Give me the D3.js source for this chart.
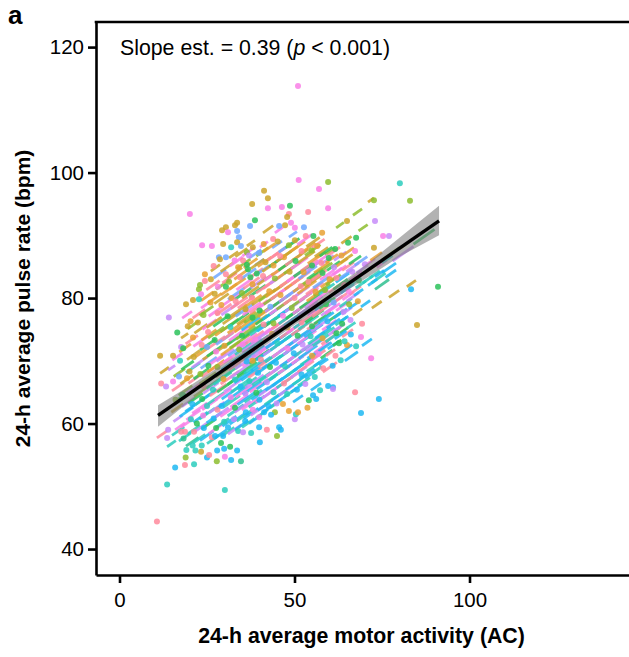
<!DOCTYPE html>
<html><head><meta charset="utf-8">
<script src="https://cdn.jsdelivr.net/npm/d3@7/dist/d3.min.js"></script>
<style>html,body{margin:0;padding:0;background:#fff}svg{display:block}text{font-family:"Liberation Sans",Arial,sans-serif;fill:#000}</style>
</head><body><div id="c"></div>
<script>
const groupColors=["#CBA52B","#F97FE6","#6EA8FF","#2BCDBD","#2CC25A","#C78CF9","#E8A133","#FF8A9C","#1FB8F2","#8DBD2F","#2FC08F"];
const xTicks=[0,50,100], yTicks=[40,60,80,100,120];
const slopeEst=0.39;
const fitX=[11,91.3], fitY=[61.3,92.3];
const ciX=[11,20,30,40,50,60,70,80,91.3];
const ciLow=[59.5,63.5,67.8,71.8,75.7,79.4,83,86.6,90];
const ciHigh=[62.9,66,69.6,73.3,77.1,81.1,85.1,89.6,94.7];
// [x, y, group]
const dots=[[51,113.8,1],[51.2,98.8,1],[41.3,97.1,0],[42.4,95.9,0],[37.9,95,0],[20.1,93.4,1],[59.6,98.5,9],[57,97.4,1],[80.1,98.3,3],[72.7,95.6,9],[83,95.5,9],[59.6,94.3,1],[53.9,93.7,7],[65,92.3,0],[73,92.3,5],[75.3,89.9,1],[77,89.9,5],[65.3,88.8,4],[67.6,89.6,4],[67.3,87.5,1],[72.7,88,0],[61.6,87.8,4],
[91,81.8,4],[85,75.7,0],[83.3,81.4,8],[68.1,79.5,6],[65.6,79,9],[69.3,75.9,7],[63.6,75.9,4],[69,73.8,1],[67.6,72.3,3],[65,72.5,6],[62.7,72.8,4],[71.9,70.4,1],[74.1,63.9,8],[67.3,65,7],[69,61.7,8],[61,65.8,8],[59.6,66,8],[61,65.5,5],[57.3,65.3,3],[55.3,64.5,8],[54.1,63.7,4],[50.1,60.7,5],[50.4,61.5,3],[51,61.8,6],[10.7,44.4,7],
[23.6,88.4,1],[26.4,88.3,1],[29.6,88.6,0],[31.9,88.1,3],[29.3,90.8,0],[30.4,91.3,0],[31,90.5,1],[33,91.6,0],[33.6,92,0],[33.6,90.7,2],[34.1,89.7,2],[33.6,88.9,0],[34.7,88.3,2],[28.4,86.5,2],[30.4,86.5,2],[38.7,92.4,4],[37.3,91.5,2],[38.1,88.1,0],[39.9,87.2,2],[36.4,87.3,9],[37,86.8,5],[35.3,86,7],[28.7,86.2,0],[30.4,83.8,7],[36.4,85.3,4],[36.7,84.6,4],[34.4,83.3,7],[23,82.1,9],[22.7,81.4,9],[24.4,82.7,7],[26.1,83,0],[28.1,81.8,1],[30.4,81.8,4],[23.3,80.6,1],[21,79.7,0],[22.7,79.8,3],[46.4,94.5,1],[48.7,94.7,4],[48.4,93.4,7],[47.9,92.9,0],[49,92,1],[47.3,91.6,0],[45.6,91.5,2],[50.1,91.2,1],[50.1,89.2,0],[48.4,88.4,9],[42.4,94.3,1],
[14.1,76.9,5],[11.6,70.8,0],[15.3,70.8,0],[17.6,72.2,5],[11.9,66.4,7],[13.3,65.9,5],[15.3,66.7,1],[13.9,59,5],[13.6,57.7,5],[17.6,58.7,7],[15.9,53,8],[18.7,53.4,7],[21.3,53.5,3],[13.6,50.3,3],[30.1,49.4,3],[27.8,54,9],[34.7,54,10],[31.9,54.2,8],[30.1,54.7,1],[25,54.6,8],[18.9,54.6,9],[23.3,55.5,0],[25.6,55,7],[19.1,55.8,3],[21.7,55.7,3],[20.9,56.5,3],[23.5,56.5,3],[27.9,55.7,8],[29.9,56,8],[33.6,55.7,8],[18.3,57.6,10],[40.1,57,8],[21.3,58.7,7],[18.7,58.7,7],[27.6,59.3,4],[31,59.4,8],[22.1,60,4],[24.1,59.3,8],[26.4,57.8,7],[27.3,58,8],[29,56.9,4],[31.6,56.3,4],[29.6,58,8],[33.9,58.8,3],[35.3,58.6,5],[37.6,58.5,3],[39.9,59.4,8],[42.1,59,7],[45,58,9],[45.6,59.4,8],[46.1,59,8],[44.4,61.8,9],[46.7,63.1,6],[48.4,62,6],[36.1,61.8,8],[39.9,61,1],[41.3,61.8,8],[43.3,61.4,8],[38.1,62.2,1],
[16.5,74.5,4],[17.3,70,3],[18.2,72,4],[17,67.5,2],[19.5,75.5,0],[21,73.7,6],[16,63.8,9],[18,64.6,4],[20,68.3,0],[24,77.3,9],[26,79.3,6],[28,77.6,7],[32,80,6],[35,80.8,9],[38,82.2,6],[41,83.5,7],[44,85.2,6],[47,86.5,6],[52,87.5,7],[55,85.2,4],[58,84,4],[60,83,6],[62,83.2,7],[56,81,6],[54,82.6,7],[59,79,4],[64,77.8,5],[62,74.4,4],[66,76.5,5],[58,73.6,6],[55,70.8,6],[52,67.8,8],[47,66.4,7],[44,65,3],[40,63.8,8],[36,64.8,5],[33,62.5,4],[28,62.2,7],[25,62.8,3],[43,69,4],[48,72,1],[38,70,6],[33,67,3],[28,69,9],[24,66,7],[35,74,4],[30,72.4,6],[44,76,9],[40,78,4],[50,80,7],[55,75.5,4],[46,80.5,6],
[22.4,76.1,0],[25.3,74.6,7],[27.2,80.7,0],[29.1,78.9,6],[31.3,82.6,9],[33.2,79.5,7],[33.9,84.9,6],[36,78.2,0],[37.8,80.1,7],[39.2,83.9,4],[41.7,85.7,0],[42.8,81.1,6],[44.4,83.1,9],[45.9,86.7,7],[48.6,84.2,0],[50.3,85.9,4],[52.6,84.1,6],[53.2,89.9,7],[54.9,87.6,9],[56.5,88.3,6],[57.7,85.6,7],[59.8,86.4,4],[61.3,84.9,5],[63.4,86.8,6],[64.2,82.1,7],[66.5,84.2,5],[68.4,82.8,4],[70.1,85.4,5],[51.8,81.9,7],[49.2,78.4,9],[46.7,77.2,1],[43.6,74.3,6],[41.2,75.8,7],[38.7,73.4,1],[36.3,69.9,8],[34.2,71.8,9],[32.1,69.4,5],[29.7,67.1,6],[27.6,71.5,1],[25.4,69.2,4],[23.1,67.9,9],[21.2,70.6,0],[19.3,67.2,6],[20.8,63.1,8],[23.6,63.9,4],[26.7,65.4,3],[29.2,62.8,8],[31.8,64.2,1],[34.6,65.9,8],[37.1,66.8,3],[39.6,68.1,8],[42.1,66.6,5],[44.7,69.7,8],[47.3,69.1,3],[49.8,71.2,8],[52.3,72.6,5],[54.6,73.9,3],[56.9,71.1,1],[59.4,76.3,8],[61.7,70.8,7],[64.3,73.1,3],[66.1,74.2,8],[47.9,64.7,3],[44.9,63.2,5],[42.6,62.8,8],[39.1,64.9,4],[35.9,60.4,8],[32.7,60.7,5],[29.9,60.3,3],[26.9,60.8,8],[23.9,61.3,1],[20.4,60.7,3],[50.7,65.4,8],[53.1,66.3,5],[55.8,67.4,3],[58.2,68.8,7],[60.9,69.2,8],[63.2,70.1,3],[56.2,63.9,8],[53.7,62.5,6],
[31.7,75.4,3],[38,76.9,4],[43.1,78.6,2],[48,75.3,6],[52,76.1,7],[35.2,72.6,1],[27.2,73.3,4],[23.5,72.5,7],[20.3,76.3,6],[19,79,0],[25,72.2,2],[30.9,77.1,4],[40.4,70.2,7],[45.1,72.8,3],[50.9,74,4],[55,78.8,1],[58.7,81.3,9],[61.2,79.3,2],[65.5,81.1,1],[24.4,83.8,6],[26.9,85.1,7],[32.9,86,1],[41.2,88.6,6],[43.9,89.4,7],[45.2,89,0],[37.4,83.3,4],[52.7,91.3,2],[55.4,89.9,4],[57.9,90.4,6]];
// [xStart, xEnd, yStart, group]
const segs=[[26.1,28.7,84.3,0],[41,43.9,90.4,0],[44.4,46.7,90.4,1],[48.4,50.7,89.7,2],[36.4,38.7,88.3,0],[40.1,42.4,88.1,1],[43.6,46.4,88,2],[31.3,33.9,86.4,0],[38.7,41.3,85.2,2],[23.3,25.9,78.4,1],[17.6,19.6,73.6,0],[17.9,20.7,76.8,1],[11.6,14.1,68,0],[13.9,15.9,68.5,5],[10.7,13.6,57.7,7],[13.6,16.1,56.3,3],[15.9,18.7,59,1],
[71,72.7,95.3,0],[66.7,69.3,93.2,9],[61.9,64.1,91.2,9],[68.3,70.9,90.7,9],[63.4,66.3,88.7,0],[58.7,61.6,86.9,9],[56.4,58.9,86.4,6],[53.9,56.7,84.6,9],[80.1,82.7,87.9,0],[82.1,84.7,81.8,0],[77,79.9,80.1,0],[72.1,74.9,78.4,0],[66.7,69.3,77.3,0],[60.7,63,74.4,0],[63,65.3,74.4,4],[63.6,66.7,73.8,7],[69.3,72.1,72.4,8],[64.4,68.1,70,8],[63,66.5,71.2,8],[58.1,62.1,68.2,7],[54.7,57.6,65.3,8],[49.6,52.4,63.4,8],[75,79,84,8],[72,76,82.4,3],[75,80,86.1,9],[84,90,88.6,4],[78,84,85.9,5],[70,75,84,6],[73,77,81.4,10],
[15,18.5,58.1,3],[15.4,18,60.3,5],[14.8,18.2,61.8,0],[15.6,19,63.4,4],[15,18.4,65.2,7],[15.5,18.7,67.5,9],[15.1,18,70.1,1],
[17,20.4,57.2,3],[17.5,21,59.4,1],[17.2,21,61.1,8],[17.8,21.6,62.7,5],[16.9,20.8,64.5,9],[17.4,21,66.3,0],[17.7,21.2,68.6,4],[17.1,20.4,71.4,6],
[19,22.6,56.4,10],[19.4,23,58.3,3],[19.1,23.1,60.6,1],[18.8,22.9,61.9,8],[19.6,23.8,63.2,4],[19.2,23.4,64.9,5],[19.7,23.8,66.4,7],[19,23,68.1,3],[19.3,23,70.2,0],[18.9,22.4,72.7,7],[19.5,22.6,75.1,9],
[21,24.5,56.9,3],[21.5,25.3,58.7,5],[21.1,25.2,60.2,8],[20.8,25.1,61.6,1],[21.7,26,63,3],[21.3,25.7,64.3,9],[21.9,26.2,65.8,7],[21.2,25.5,67.1,4],[20.7,25,68.9,5],[21.6,25.7,70.6,6],[21.1,25.2,72.3,1],[21.4,25.1,74.4,0],[20.9,24.5,76.8,7],
[23,26.8,57.3,8],[23.4,27.6,59.1,4],[22.8,27.3,60.7,3],[23.6,28,62.2,1],[23.1,27.8,63.6,8],[23.9,28.3,64.8,5],[22.9,27.6,66.3,9],[23.5,28,67.5,7],[23.2,27.8,68.8,2],[23.8,28.2,70.2,0],[23,27.5,71.7,4],[23.4,27.7,73.3,6],[23.7,27.7,75,1],[22.9,26.8,77.2,9],[23.3,26.8,79.6,6],
[25,28.5,56.8,3],[25.5,29.4,58.4,1],[24.9,29.3,60.1,8],[25.6,30,61.7,5],[25.2,30,63.1,3],[25.8,30.6,64.4,7],[24.8,29.7,65.6,10],[25.4,30.2,66.9,2],[25.1,30,68.2,6],[25.7,30.5,69.4,1],[25,29.9,70.7,4],[25.6,30.2,72.1,7],[25.3,29.9,73.6,9],[24.9,29.2,75.3,0],[25.5,29.5,77.1,1],[25.2,29.2,79.2,6],[24.8,28.6,81.3,7],
[27,30.6,57.6,8],[27.4,31.3,59.3,3],[26.8,31.2,60.8,5],[27.6,32.2,62.3,8],[27.2,32,63.7,1],[27.9,32.8,65,4],[26.9,32,66.2,3],[27.5,32.6,67.4,9],[27.1,32.2,68.7,7],[27.7,32.7,69.9,5],[27,32,71.2,0],[27.6,32.5,72.6,2],[27.3,32,74,6],[26.8,31.4,75.5,4],[27.5,32,77.3,7],[27.1,31.2,79.1,0],[27.6,31.4,81.4,9],[26.9,30.4,83.2,2],
[29,32.8,57.9,3],[29.4,33.4,59.6,8],[28.8,33.4,61.1,1],[29.6,34.4,62.6,3],[29.2,34.3,63.9,8],[29.9,35,65.1,5],[28.9,34.2,66.3,7],[29.5,34.8,67.4,10],[29.1,34.6,68.6,8],[29.7,35.2,69.7,1],[29,34.6,70.9,6],[29.6,35,72.1,4],[29.3,34.8,73.3,7],[28.8,34,74.6,9],[29.5,34.6,75.9,0],[29.1,34,77.3,5],[29.7,34.4,78.9,1],[29,33.6,80.5,6],[29.4,33.5,82.4,7],[28.9,32.6,84.2,0],
[31,34.8,58.3,5],[31.5,35.7,59.9,8],[30.9,35.5,61.2,3],[31.7,36.7,62.6,1],[31.2,36.5,63.9,8],[31.9,37.2,65,3],[30.8,36.2,66.2,4],[31.6,37.2,67.3,5],[31.1,36.8,68.5,7],[31.8,37.4,69.6,8],[31,36.6,70.8,2],[31.5,37.2,72,9],[31.3,36.8,73.2,1],[30.9,36.2,74.4,6],[31.6,36.9,75.6,4],[31.2,36.4,76.9,0],[31.8,36.6,78.3,7],[31,35.8,79.8,2],[31.4,36,81.4,6],[30.8,35,83.2,0],[31.5,35.2,85.1,1],
[33,36.8,59,8],[33.5,37.7,60.4,3],[32.9,37.5,61.8,5],[33.7,38.7,63,8],[33.2,38.5,64.2,1],[33.9,39.2,65.3,3],[32.8,38.2,66.5,8],[33.6,39.2,67.6,4],[33.1,38.8,68.7,5],[33.8,39.4,69.9,7],[33,38.6,71,3],[33.5,39.2,72.2,1],[33.3,38.8,73.4,9],[32.9,38.2,74.6,6],[33.6,38.9,75.8,0],[33.2,38.4,77.1,2],[33.8,38.6,78.4,7],[33,37.8,79.8,4],[33.4,38,81.3,1],[32.8,37,83,6],[33.5,37.4,84.7,9],[33.1,36.5,86.6,0],
[35,38.6,59.4,3],[35.5,39.7,60.8,8],[34.9,39.5,62.2,1],[35.7,40.7,63.4,3],[35.2,40.5,64.6,8],[35.9,41.2,65.7,5],[34.8,40.2,66.9,8],[35.6,41.2,68,3],[35.1,40.8,69.1,1],[35.8,41.4,70.2,8],[35,40.6,71.4,5],[35.5,41.2,72.5,7],[35.3,40.8,73.7,4],[34.9,40.2,74.9,8],[35.6,40.9,76.1,9],[35.2,40.4,77.3,1],[35.8,40.6,78.6,6],[35,39.8,80,0],[35.4,40,81.5,7],[34.8,39,83.1,2],[35.5,39.4,84.8,6],[35.1,38.5,86.7,1],
[37,40.6,60,8],[37.5,41.7,61.3,5],[36.9,41.5,62.6,3],[37.7,42.7,63.8,8],[37.2,42.5,65,1],[37.9,43.2,66.1,3],[36.8,42.2,67.3,7],[37.6,43.2,68.4,8],[37.1,42.8,69.5,4],[37.8,43.4,70.6,5],[37,42.6,71.8,8],[37.5,43.2,72.9,1],[37.3,42.8,74.1,3],[36.9,42.2,75.2,6],[37.6,42.9,76.4,9],[37.2,42.4,77.6,7],[37.8,42.6,78.9,0],[37,41.8,80.2,4],[37.4,42,81.6,5],[36.8,41,83.1,7],[37.5,41.4,84.7,0],[37.1,40.5,86.4,2],
[39,42.4,60.9,3],[39.5,43.7,62.1,8],[38.9,43.5,63.3,1],[39.7,44.7,64.4,5],[39.2,44.5,65.5,8],[39.9,45.2,66.7,3],[38.8,44.2,67.8,8],[39.6,45.2,69,7],[39.1,44.8,70.1,8],[39.8,45.4,71.2,1],[39,44.6,72.4,3],[39.5,45.2,73.5,5],[39.3,44.8,74.7,8],[38.9,44.2,75.8,4],[39.6,44.9,77,6],[39.2,44.4,78.2,1],[39.8,44.6,79.5,9],[39,43.8,80.8,7],[39.4,44,82.1,0],[38.8,43,83.6,2],[39.5,43.4,85,6],[39.1,42.5,86.7,9],
[41,44.4,61.8,8],[41.5,45.7,63,3],[40.9,45.5,64.1,5],[41.7,46.7,65.3,8],[41.2,46.5,66.4,3],[41.9,47.2,67.5,1],[40.8,46.2,68.7,8],[41.6,47.2,69.8,3],[41.1,46.8,70.9,5],[41.8,47.4,72,8],[41,46.6,73.2,7],[41.5,47.2,74.3,1],[41.3,46.8,75.4,4],[40.9,46.2,76.6,8],[41.6,46.9,77.8,5],[41.2,46.4,79,9],[41.8,46.6,80.2,6],[41,45.8,81.5,7],[41.4,46,82.8,1],[40.8,45,84.2,0],[41.5,45.4,85.7,7],[41.1,44.5,87.4,6],
[43,46.4,62.5,3],[43.5,47.7,63.7,8],[42.9,47.5,64.9,1],[43.7,48.7,66,8],[43.2,48.5,67.1,3],[43.9,49.2,68.3,5],[42.8,48.2,69.4,8],[43.6,49.2,70.6,1],[43.1,48.8,71.7,3],[43.8,49.4,72.8,8],[43,48.6,74,5],[43.5,49.2,75.1,7],[43.3,48.8,76.3,3],[42.9,48.2,77.4,1],[43.6,48.9,78.6,4],[43.2,48.4,79.8,7],[43.8,48.6,81,0],[43,47.8,82.3,5],[43.4,48,83.6,6],[42.8,47,85,4],[43.5,47.4,86.5,7],
[45,48.4,63.4,8],[45.5,49.7,64.5,5],[44.9,49.5,65.7,3],[45.7,50.7,66.8,8],[45.2,50.5,67.9,1],[45.9,51.2,69.1,8],[44.8,50.2,70.2,3],[45.6,51.2,71.4,5],[45.1,50.8,72.5,8],[45.8,51.4,73.6,7],[45,50.6,74.8,1],[45.5,51.2,75.9,3],[45.3,50.8,77.1,8],[44.9,50.2,78.2,9],[45.6,50.9,79.4,5],[45.2,50.4,80.6,1],[45.8,50.6,81.8,7],[45,49.8,83.1,6],[45.4,50,84.4,4],[44.8,49,85.8,0],[45.5,49.4,87.3,2],
[47,50.4,64.2,3],[47.5,51.7,65.4,8],[46.9,51.5,66.5,7],[47.7,52.7,67.6,3],[47.2,52.5,68.7,8],[47.9,53.2,69.9,1],[46.8,52.2,71,5],[47.6,53.2,72.2,8],[47.1,52.8,73.3,3],[47.8,53.4,74.4,1],[47,52.6,75.6,8],[47.5,53.2,76.7,4],[47.3,52.8,77.8,5],[46.9,52.2,79,7],[47.6,52.9,80.2,2],[47.2,52.4,81.4,6],[47.8,52.6,82.6,1],[47,51.8,83.9,9],[47.4,52,85.2,7],[46.8,51,86.6,0],[47.5,51.4,88,4],
[49,52.4,65,8],[49.5,53.7,66.2,3],[48.9,53.5,67.3,5],[49.7,54.7,68.4,8],[49.2,54.5,69.5,1],[49.9,55.2,70.7,3],[48.8,54.2,71.8,8],[49.6,55.2,73,5],[49.1,54.8,74.1,7],[49.8,55.4,75.2,3],[49,54.6,76.4,8],[49.5,55.2,77.5,1],[49.3,54.8,78.7,9],[48.9,54.2,79.8,5],[49.6,54.9,81,6],[49.2,54.4,82.2,7],[49.8,54.6,83.4,4],[49,53.8,84.6,1],[49.4,54,86,0],[48.8,53,87.4,6],
[51,54.4,66,3],[51.5,55.7,67.1,8],[50.9,55.5,68.2,7],[51.7,56.7,69.3,3],[51.2,56.5,70.4,8],[51.9,57.2,71.6,5],[50.8,56.2,72.7,1],[51.6,57.2,73.9,8],[51.1,56.8,75,3],[51.8,57.4,76.1,7],[51,56.6,77.3,5],[51.5,57.2,78.4,4],[51.3,56.8,79.5,1],[50.9,56.2,80.7,6],[51.6,56.9,81.9,9],[51.2,56.4,83.1,2],[51.8,56.6,84.3,7],[51,55.8,85.6,0],[51.4,56,87,6],[50.8,55,88.5,1],
[53,56,67.2,8],[53.5,57.2,68.3,3],[52.9,57,69.3,1],[53.7,58.2,70.4,8],[53.2,58,71.5,5],[53.9,58.7,72.7,3],[52.8,58,73.8,8],[53.6,58.6,75,7],[53.1,58.3,76.1,4],[53.8,59,77.2,1],[53,58,78.4,5],[53.5,58.6,79.5,6],[53.3,58.2,80.6,7],[52.9,57.6,81.8,0],[53.6,58,83,4],[53.2,57.8,84.2,5],[53.8,58,85.5,6],[53,57.4,86.8,9],[53.4,57.2,88.2,0],
[55,57.8,68,3],[55.5,59,69.1,8],[54.9,58.8,70.2,7],[55.7,60,71.3,1],[55.2,59.8,72.4,3],[55.9,60.4,73.6,8],[54.8,59.6,74.7,5],[55.6,60.4,75.9,4],[55.1,60,77,7],[55.8,60.6,78.1,8],[55,59.8,79.3,1],[55.5,60.2,80.4,9],[55.3,59.8,81.6,2],[54.9,59.2,82.8,7],[55.6,60,84,6],[55.2,59.4,85.2,1],[55.8,59.6,86.6,0],[55,58.6,88,7],
[57,59.6,69.3,8],[57.5,60.8,70.4,4],[56.9,60.6,71.5,8],[57.7,61.6,72.6,7],[57.2,61.4,73.7,3],[57.9,62,74.9,1],[56.8,61.2,76,8],[57.6,62,77.2,5],[57.1,61.6,78.3,4],[57.8,62.2,79.4,7],[57,61.4,80.6,3],[57.5,61.8,81.7,6],[57.3,61.4,82.9,1],[56.9,60.8,84.1,9],[57.6,61.2,85.4,5],[57.2,60.8,86.7,4],
[59,61.6,70.8,7],[59.5,62.8,71.9,8],[58.9,62.4,73,3],[59.7,63.4,74.1,5],[59.2,63,75.2,8],[59.9,63.8,76.4,4],[58.8,63,77.5,1],[59.6,63.8,78.7,5],[59.1,63.4,79.8,8],[59.8,64,80.9,7],[59,63.2,82.1,9],[59.5,63.6,83.2,1],[59.3,63,84.4,4],[58.9,62.4,85.6,6],[59.6,63,86.8,7],
[61,63.4,72.4,4],[61.5,64.8,73.5,8],[60.9,64.4,74.6,5],[61.7,65,75.7,3],[61.2,65,76.8,8],[61.9,65.8,78,1],[60.8,65,79.1,7],[61.6,65.6,80.2,5],[61.1,65.2,81.4,4],[61.8,65.6,82.5,8],[61,64.8,83.7,1],[61.5,65.2,84.9,6],[61.3,64.8,86,5],
[63,65.4,76.2,8],[63.5,66.4,77.4,5],[62.9,66.4,78.6,3],[63.7,67,79.7,1],[63.2,67,80.8,8],[63.9,67.5,82,4],[62.8,66.6,83.1,2],[63.6,67,84.4,7],[63.1,66.6,85.6,0],[63.8,67,86.8,6],
[65,67.4,75.2,3],[65.5,68.4,78.3,8],[64.9,68.4,79.5,5],[65.7,69,80.6,7],[65.2,69,81.8,3],[65.9,69.3,82.9,1],[64.8,68.4,84.2,5],[65.6,69,85.4,4],[67,69.6,80.4,8],[67.5,70.4,81.6,3],[66.9,70.4,82.8,1],[67.7,71,84,5],[67.2,70.8,85.2,2],[69,71.6,78.6,8],[69.5,72.4,82.4,3],[68.9,72.4,83.7,5],[69.7,73,85,1],[71,73.6,82,8],[71.5,74.4,83.2,3],[70.9,74.4,84.5,5],[71.7,75,86,6],[73,75.6,83.4,8],[73.5,76.4,84.9,1],[75,78,85.6,3],[76,79,83.3,8]];

const W=629,H=657,L=96,T=22,B=575;
const x=d3.scaleLinear().domain([-6.714,145.57]).range([L,W]);
const y=d3.scaleLinear().domain([35.86,124]).range([B,T]);
const svg=d3.select("#c").append("svg").attr("width",W).attr("height",H);
const g=svg.append("g");
g.selectAll("line.s").data(segs).join("line").attr("class","s")
 .attr("x1",d=>x(d[0])).attr("x2",d=>x(d[1]))
 .attr("y1",d=>y(d[2])).attr("y2",d=>y(d[2]+slopeEst*(d[1]-d[0])))
 .attr("stroke",d=>groupColors[d[3]]).attr("stroke-width",2.8).attr("stroke-opacity",.85);
g.selectAll("circle.d").data(dots).join("circle").attr("class","d")
 .attr("cx",d=>x(d[0])).attr("cy",d=>y(d[1])).attr("r",3)
 .attr("fill",d=>groupColors[d[2]]).attr("fill-opacity",.85);
const area=d3.area().x((d,i)=>x(ciX[i])).y0((d,i)=>y(ciLow[i])).y1((d,i)=>y(ciHigh[i]));
g.append("path").attr("d",area(ciX)).attr("fill","#7f7f7f").attr("fill-opacity",.6);
g.append("path").attr("d",d3.line().x((d,i)=>x(fitX[i])).y((d,i)=>y(fitY[i]))(fitX))
 .attr("fill","none").attr("stroke","#000").attr("stroke-width",3.4);

const xa=svg.append("g").attr("transform",`translate(0,${B})`).call(d3.axisBottom(x).tickValues(xTicks).tickSize(8).tickSizeOuter(0).tickPadding(9).tickFormat(d3.format("d")));
const ya=svg.append("g").attr("transform",`translate(${L},0)`).call(d3.axisLeft(y).tickValues(yTicks).tickSize(8).tickSizeOuter(0).tickPadding(4).tickFormat(d3.format("d")));
[xa,ya].forEach(a=>{a.selectAll("path").attr("stroke","#000").attr("stroke-width",2.6);
 a.selectAll("line").attr("stroke","#000").attr("stroke-width",2.6);
 a.selectAll("text").style("font-size","20.5px").style("font-family","'Liberation Sans',Arial,sans-serif");});
svg.append("line").attr("x1",L-1.3).attr("x2",W).attr("y1",T).attr("y2",T).attr("stroke","#000").attr("stroke-width",2.6);
const note=svg.append("text").attr("x",120).attr("y",55).style("font-size","21.3px");
note.append("tspan").text("Slope est. = 0.39 (");
note.append("tspan").style("font-style","italic").text("p");
note.append("tspan").text(" < 0.001)");
svg.append("text").attr("x",8).attr("y",24).style("font-size","26px").style("font-weight","bold").text("a");
svg.append("text").attr("x",361.5).attr("y",643).attr("text-anchor","middle").style("font-size","21.3px").style("font-weight","bold").text("24-h average motor activity (AC)");
svg.append("text").attr("transform","translate(30,298.5) rotate(-90)").attr("text-anchor","middle").style("font-size","21px").style("font-weight","bold").text("24-h average pulse rate (bpm)");
</script></body></html>
